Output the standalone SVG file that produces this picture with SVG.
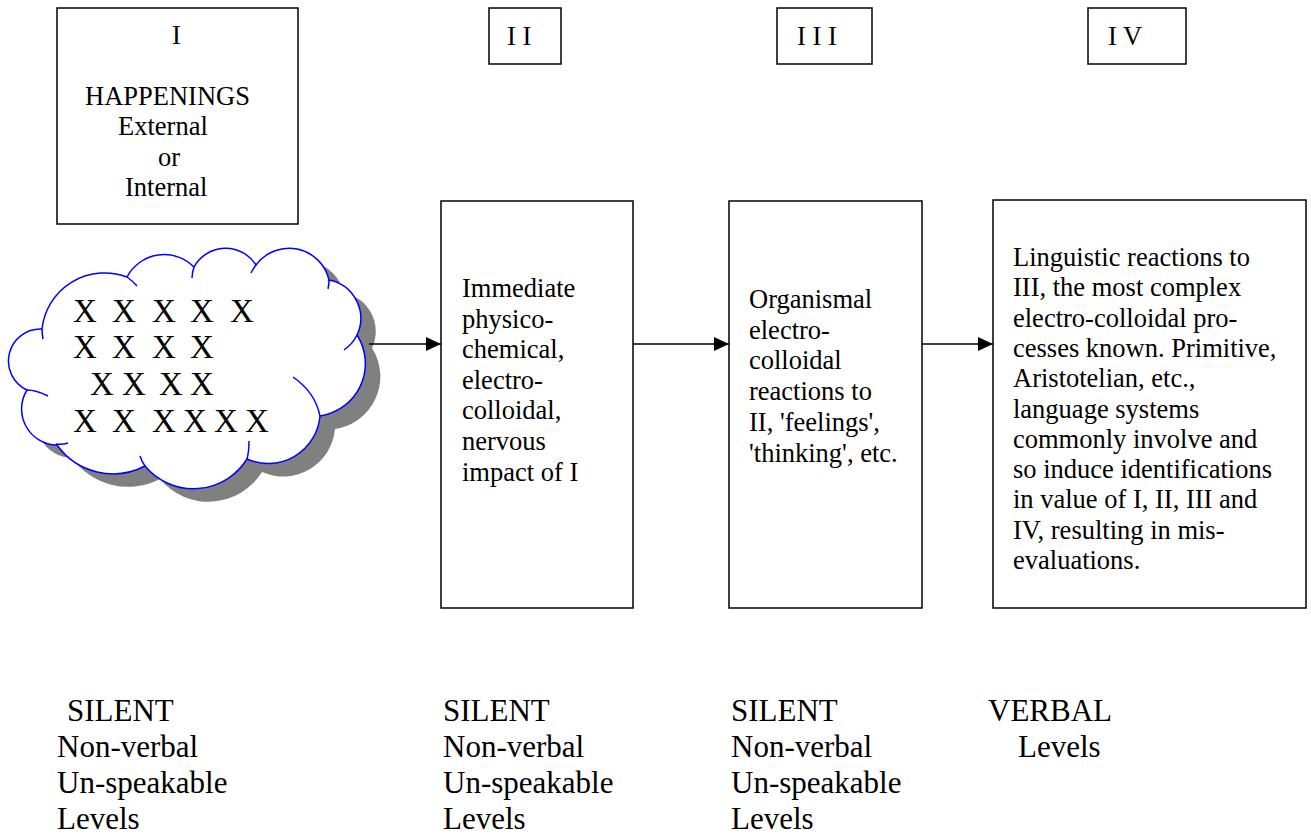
<svg xmlns="http://www.w3.org/2000/svg" width="1311" height="837" viewBox="0 0 1311 837">
<style>
  .box { fill: #fff; stroke: #000; stroke-width: 1.5; }
  .t { font-family: "Liberation Serif", "Times New Roman", serif; font-size: 26.5px; fill: #000; }
  .lab { font-family: "Liberation Serif", "Times New Roman", serif; font-size: 31px; fill: #000; }
  .xs { font-family: "Liberation Serif", "Times New Roman", serif; font-size: 33px; fill: #000; }
  .conn { stroke: #000; stroke-width: 1.4; fill: none; }
  .cl { fill: none; stroke: #0000ff; stroke-width: 1.5; }
</style>
<defs>
  <marker id="arr" markerUnits="userSpaceOnUse" markerWidth="16" markerHeight="16" refX="15" refY="7" orient="auto">
    <path d="M0,0 L15,7 L0,14 Z" fill="#000"/>
  </marker>
  <path id="cloudShape" d="M42,329 A63,63 0 0 1 127,277 A42,42 0 0 1 194,267 A36,36 0 0 1 256,265 A41,41 0 0 1 329,280 A39,39 0 0 1 357,335 A53,53 0 0 1 320,416 A52,52 0 0 1 247,459 A63,63 0 0 1 145,466 A69,69 0 0 1 57,445 A36,36 0 0 1 27,390 A32,32 0 0 1 42,329 Z"/>
</defs>
<rect width="1311" height="837" fill="#fff"/>

<g id="box-I">
  <rect class="box" x="57" y="8" width="241" height="216"/>
  <text class="t" x="172" y="44">I</text>
  <text class="t" x="85" y="105">HAPPENINGS</text>
  <text class="t" x="118" y="135">External</text>
  <text class="t" x="158" y="166">or</text>
  <text class="t" x="125" y="196">Internal</text>
</g>

<g id="label-II">
  <rect class="box" x="489" y="8" width="72" height="56"/>
  <text class="t" x="507" y="45">I I</text>
</g>
<g id="label-III">
  <rect class="box" x="777" y="8" width="95" height="56"/>
  <text class="t" x="797" y="45">I I I</text>
</g>
<g id="label-IV">
  <rect class="box" x="1088" y="8" width="98" height="56"/>
  <text class="t" x="1108" y="45">I V</text>
</g>

<g id="cloud">
  <use href="#cloudShape" fill="#808080" transform="translate(15,13)"/>
  <use href="#cloudShape" fill="#fff" stroke="#0000ff" stroke-width="1.5"/>
  <path class="cl" d="M43,339 A63,63 0 0 1 42,329"/>
  <path class="cl" d="M127,277 A63,63 0 0 1 137,286"/>
  <path class="cl" d="M192,278 A36,36 0 0 1 194,267"/>
  <path class="cl" d="M251,273 A41,41 0 0 1 256,265"/>
  <path class="cl" d="M329,280 A41,41 0 0 1 328,289"/>
  <path class="cl" d="M357,335 A39,39 0 0 1 344,350"/>
  <path class="cl" d="M293,377 Q315,392 320,416"/>
  <path class="cl" d="M249,441 Q249,452 247,459"/>
  <path class="cl" d="M145,466 Q142,462 140,456"/>
  <path class="cl" d="M68,443 Q62,445 56,444"/>
  <path class="cl" d="M48,396 Q36,390 27,390"/>
  <text class="xs" x="73 97 112 136 152 175 190 214 230" y="322">X X X X X</text>
  <text class="xs" x="73 97 112 136 152 175 190" y="358">X X X X</text>
  <text class="xs" x="90 122 146 159 190" y="395">XX XX</text>
  <text class="xs" x="73 97 112 136 152 183 214 245" y="432">X X XXXX</text>
</g>

<g id="box-II">
  <rect class="box" x="441" y="201" width="192" height="407"/>
  <text class="t" x="462" y="297">Immediate</text>
  <text class="t" x="462" y="327.6">physico-</text>
  <text class="t" x="462" y="358.2">chemical,</text>
  <text class="t" x="462" y="388.8">electro-</text>
  <text class="t" x="462" y="419.4">colloidal,</text>
  <text class="t" x="462" y="450">nervous</text>
  <text class="t" x="462" y="480.6">impact of I</text>
</g>

<g id="box-III">
  <rect class="box" x="729" y="201" width="193" height="407"/>
  <text class="t" x="749" y="308">Organismal</text>
  <text class="t" x="749" y="338.7">electro-</text>
  <text class="t" x="749" y="369.4">colloidal</text>
  <text class="t" x="749" y="400.1">reactions to</text>
  <text class="t" x="749" y="430.8">II, 'feelings',</text>
  <text class="t" x="749" y="461.5">'thinking', etc.</text>
</g>

<g id="box-IV">
  <rect class="box" x="993" y="200" width="313" height="408"/>
  <text class="t" x="1013" y="266">Linguistic reactions to</text>
  <text class="t" x="1013" y="296.3">III, the most complex</text>
  <text class="t" x="1013" y="326.6">electro-colloidal pro-</text>
  <text class="t" x="1013" y="356.9">cesses known. Primitive,</text>
  <text class="t" x="1013" y="387.2">Aristotelian, etc.,</text>
  <text class="t" x="1013" y="417.5">language systems</text>
  <text class="t" x="1013" y="447.8">commonly involve and</text>
  <text class="t" x="1013" y="478.1">so induce identifications</text>
  <text class="t" x="1013" y="508.4">in value of I, II, III and</text>
  <text class="t" x="1013" y="538.7">IV, resulting in mis-</text>
  <text class="t" x="1013" y="569">evaluations.</text>
</g>

<g id="connectors">
  <line class="conn" x1="369" y1="344" x2="441" y2="344" marker-end="url(#arr)"/>
  <line class="conn" x1="633" y1="344" x2="729" y2="344" marker-end="url(#arr)"/>
  <line class="conn" x1="922" y1="344" x2="993" y2="344" marker-end="url(#arr)"/>
</g>

<g id="levels-1">
  <text class="lab" x="67" y="721">SILENT</text>
  <text class="lab" x="57" y="757">Non-verbal</text>
  <text class="lab" x="57" y="793">Un-speakable</text>
  <text class="lab" x="57" y="829">Levels</text>
</g>
<g id="levels-2">
  <text class="lab" x="443" y="721">SILENT</text>
  <text class="lab" x="443" y="757">Non-verbal</text>
  <text class="lab" x="443" y="793">Un-speakable</text>
  <text class="lab" x="443" y="829">Levels</text>
</g>
<g id="levels-3">
  <text class="lab" x="731" y="721">SILENT</text>
  <text class="lab" x="731" y="757">Non-verbal</text>
  <text class="lab" x="731" y="793">Un-speakable</text>
  <text class="lab" x="731" y="829">Levels</text>
</g>
<g id="levels-4">
  <text class="lab" x="988" y="721">VERBAL</text>
  <text class="lab" x="1018" y="757">Levels</text>
</g>
</svg>
